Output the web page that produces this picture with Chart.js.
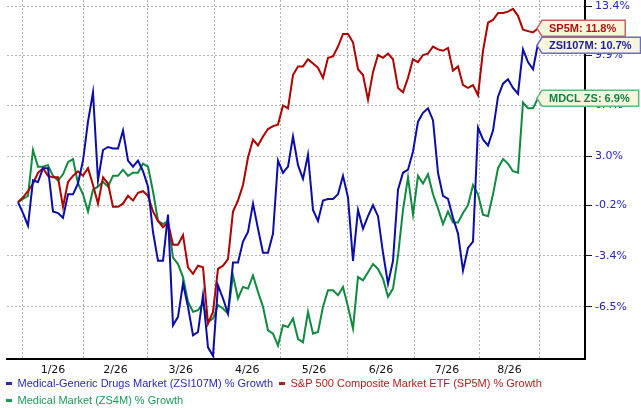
<!DOCTYPE html>
<html>
<head>
<meta charset="utf-8">
<title>Medical-Generic Drugs Market % Growth</title>
<script src="https://cdn.jsdelivr.net/npm/chart.js@4.4.1/dist/chart.umd.min.js"></script>
<style>
  html, body { margin: 0; padding: 0; background: #fff; }
  canvas { display: block; }
</style>
</head>
<body>
<canvas id="growthChart" width="641" height="408"></canvas>
<script>
// % growth since the start of the window, one reading per step
const drugsGrowth = [
  0.0, -0.7, -1.5, 1.4, 1.3, 2.2, 2.2, -0.6, -0.7, -1.0,
  0.5, 0.5, 1.2, 2.7, 5.3, 7.3, 1.4, 3.4, 3.6, 3.5,
  3.5, 4.7, 2.7, 2.3, 2.7, 2.0, 1.0, -1.9, -3.7, -3.7,
  -0.8, -7.6, -7.1, -5.1, -6.5, -8.2, -8.0, -5.8, -8.9, -9.4,
  -5.2, -6.0, -6.9, -3.8, -3.8, -2.5, -1.9, -0.1, -1.7, -3.2,
  -3.2, -2.0, 2.7, 1.9, 2.3, 4.3, 2.4, 1.5, 3.1, -0.5,
  -1.2, 0.1, 0.2, 0.2, 0.5, 1.7, 0.3, -3.7, -0.5, -1.7,
  -0.9, -0.2, -0.9, -3.2, -5.1, -3.7, 0.8, 1.9, 2.1, 3.3,
  5.3, 5.9, 6.2, 5.4, 1.9, 0.4, 0.2, -1.0, -2.0, -4.3,
  -2.9, -2.5, 4.9, 4.1, 3.7, 4.7, 7.0, 7.9, 8.2, 7.6,
  7.2, 10.3, 9.4, 8.9, 10.7
];
const sp500Growth = [
  0.0, 0.3, 0.7, 1.2, 1.9, 2.2, 1.7, 1.6, 1.6, -0.3,
  1.3, 1.7, 2.0, 1.7, 2.2, 1.1, -0.1, 1.6, 1.2, -0.3,
  -0.3, -0.1, 0.4, 0.1, 0.6, 0.7, 0.4, -0.6, -1.2, -1.6,
  -1.3, -2.7, -2.7, -2.1, -4.1, -4.5, -4.0, -4.1, -7.5, -6.8,
  -4.2, -4.0, -3.6, -0.6, 0.1, 1.1, 2.9, 4.1, 3.7, 4.3,
  4.8, 5.0, 5.1, 6.4, 6.2, 8.5, 9.1, 9.1, 9.6, 9.3,
  9.0, 8.3, 9.7, 9.8, 10.5, 11.4, 11.4, 10.8, 8.9, 8.5,
  6.8, 8.7, 9.9, 9.7, 10.0, 9.6, 7.6, 7.3, 8.3, 9.6,
  9.4, 9.9, 10.0, 10.5, 10.3, 10.2, 10.4, 8.8, 9.1, 7.8,
  7.6, 7.8, 7.1, 10.2, 12.2, 12.4, 12.9, 12.9, 13.0, 13.2,
  12.7, 11.7, 11.6, 11.5, 11.8
];
const medicalGrowth = [
  0.0, 0.2, 0.4, 3.4, 2.3, 2.3, 2.4, 1.7, 1.4, 1.8,
  2.6, 2.8, 1.2, 0.5, -0.6, 0.8, 1.0, 1.3, 1.0, 1.7,
  1.7, 2.1, 1.7, 1.9, 1.9, 2.5, 2.3, 0.7, -1.2, -1.4,
  -1.2, -3.5, -3.9, -4.7, -6.2, -6.8, -6.7, -6.3, -7.4, -7.2,
  -6.4, -6.6, -6.9, -4.6, -6.0, -5.3, -5.4, -4.6, -5.6, -6.5,
  -7.9, -8.1, -8.8, -7.6, -7.7, -7.2, -8.4, -8.6, -6.8, -8.1,
  -8.0, -6.5, -5.5, -5.5, -5.8, -5.3, -6.5, -7.8, -4.7, -4.9,
  -4.4, -3.9, -4.2, -4.8, -5.9, -5.4, -3.4, -0.5, 1.6, -0.8,
  1.7, 1.2, 1.8, 0.5, -0.4, -1.4, -0.6, -1.3, -1.3, -0.7,
  -0.2, 1.1, 0.5, -0.8, -0.9, 0.5, 2.2, 2.8, 2.5, 2.0,
  1.9, 6.6, 6.2, 6.2, 6.9
];

const seriesNames = [
  'Medical-Generic Drugs Market (ZSI107M) % Growth',
  'S&P 500 Composite Market ETF (SP5M) % Growth',
  'Medical Market (ZS4M) % Growth'
];
const seriesShort = ['ZSI107M', 'SP5M', 'MDCL ZS'];
const seriesValues = [drugsGrowth, sp500Growth, medicalGrowth];

// month boundaries, in steps along the x axis
const monthBounds = [0.9, 13.1, 25.9, 39.2, 52.5, 65.9, 79.3, 92.3, 104.3];
const monthLabels = ['1/26', '2/26', '3/26', '4/26', '5/26', '6/26', '7/26', '8/26'];
const yTickLabels = ['13.4%', '9.9%', '6.4%', '3.0%', '-0.2%', '-3.4%', '-6.5%'];
const yRange = [-9.58, 13.85];
const xRange = [-2.2, 113.4];

const lineColors = ['#0c0cab', '#b10000', '#0f8a3e'];
const legendColors = ['#2a2ab4', '#b42020', '#1a9a58'];
const boxBorders = ['#6c6cc8', '#c46464', '#60b883'];
const boxText = ['#1c1c9c', '#b31212', '#0c8444'];

const toFactor = g => 1 + g / 100;
const monthMids = monthLabels.map((_, i) => (monthBounds[i] + monthBounds[i + 1]) / 2);
const gridGrey = '#b4b4b4';

// legend flush left; month labels allowed to spill below their box
const layoutNudge = {
  id: 'layoutNudge',
  afterLayout(chart) {
    const lg = chart.legend;
    if (lg) { lg.left -= 7; lg.right -= 7; }
    chart.scales.x.bottom += 8;
  }
};

const endLabels = {
  id: 'endLabels',
  afterDraw(chart) {
    const ctx = chart.ctx;
    const xs = chart.scales.x, ys = chart.scales.y;
    const items = seriesValues.map((vals, i) => ({
      i,
      text: seriesShort[i] + ': ' + vals[vals.length - 1].toFixed(1) + '%',
      tip: xs.getPixelForValue(vals.length - 1) - 1,
      y: ys.getPixelForValue(toFactor(vals[vals.length - 1]))
    })).sort((a, b) => a.y - b.y);
    for (let k = 1; k < items.length; k++) {
      if (items[k].y - items[k - 1].y < 17) items[k].y = items[k - 1].y + 17;
    }
    ctx.save();
    ctx.font = 'bold 11px "Liberation Sans", Arial, sans-serif';
    ctx.textBaseline = 'middle';
    items.forEach(it => {
      const w = ctx.measureText(it.text).width + 16;
      const l = it.tip + 5, h = 8;
      ctx.beginPath();
      ctx.moveTo(it.tip, it.y);
      ctx.lineTo(l, it.y - h);
      ctx.lineTo(l + w, it.y - h);
      ctx.lineTo(l + w, it.y + h);
      ctx.lineTo(l, it.y + h);
      ctx.closePath();
      ctx.fillStyle = '#f7f5dc';
      ctx.fill();
      ctx.lineWidth = 1.5;
      ctx.strokeStyle = boxBorders[it.i];
      ctx.stroke();
      ctx.fillStyle = boxText[it.i];
      ctx.fillText(it.text, l + 7, it.y + 0.5);
    });
    ctx.restore();
  }
};

Chart.defaults.font.family = '"DejaVu Sans", Verdana, sans-serif';

new Chart(document.getElementById('growthChart'), {
  type: 'line',
  data: {
    datasets: seriesValues.map((vals, i) => ({
      label: seriesNames[i],
      data: vals.map((g, k) => ({ x: k, y: toFactor(g) })),
      borderColor: lineColors[i],
      borderWidth: 2,
      pointRadius: 0,
      tension: 0,
      fill: false
    }))
  },
  options: {
    responsive: false,
    animation: false,
    layout: { padding: { left: 7, right: 0, top: 0, bottom: -8 } },
    plugins: {
      tooltip: { enabled: false },
      legend: {
        position: 'bottom',
        align: 'start',
        labels: {
          boxWidth: 6,
          boxHeight: 3,
          padding: 6,
          font: { family: '"Liberation Sans", Arial, sans-serif', size: 11 },
          generateLabels: chart => chart.data.datasets.map((ds, i) => ({
            text: ds.label,
            fillStyle: legendColors[i],
            strokeStyle: legendColors[i],
            lineWidth: 0,
            fontColor: legendColors[i],
            hidden: false,
            datasetIndex: i
          }))
        }
      }
    },
    scales: {
      x: {
        type: 'linear',
        min: xRange[0],
        max: xRange[1],
        afterBuildTicks: s => {
          s.ticks = monthBounds.concat(monthMids).map(v => ({ value: v }));
        },
        afterFit: s => { s.height = 13; s.paddingLeft = 0; s.paddingRight = 0; },
        grid: {
          color: c => c.index < monthBounds.length ? gridGrey : 'rgba(0,0,0,0)',
          drawTicks: false
        },
        border: { display: true, color: '#000', width: 2, dash: [2, 2] },
        ticks: {
          autoSkip: false,
          maxRotation: 0,
          padding: 5,
          color: '#111',
          font: { size: 11 },
          callback: (v, i) => i < monthBounds.length ? '' : monthLabels[i - monthBounds.length]
        }
      },
      y: {
        type: 'logarithmic',
        position: 'right',
        min: toFactor(yRange[0]),
        max: toFactor(yRange[1]),
        afterBuildTicks: s => {
          s.ticks = yTickLabels.map(t => ({ value: toFactor(parseFloat(t)) }));
        },
        afterFit: s => { s.width = 56; s.paddingTop = 0; s.paddingBottom = 0; },
        grid: {
          color: gridGrey,
          tickColor: '#1a1a1a',
          tickLength: 7,
          tickWidth: 1,
          tickBorderDash: []
        },
        border: { display: true, color: '#000', width: 2, dash: [2, 2] },
        ticks: {
          padding: 3,
          color: '#2323c6',
          font: { size: 11 },
          callback: (v, i) => yTickLabels[i]
        }
      }
    }
  },
  plugins: [layoutNudge, endLabels]
});
</script>
</body>
</html>
